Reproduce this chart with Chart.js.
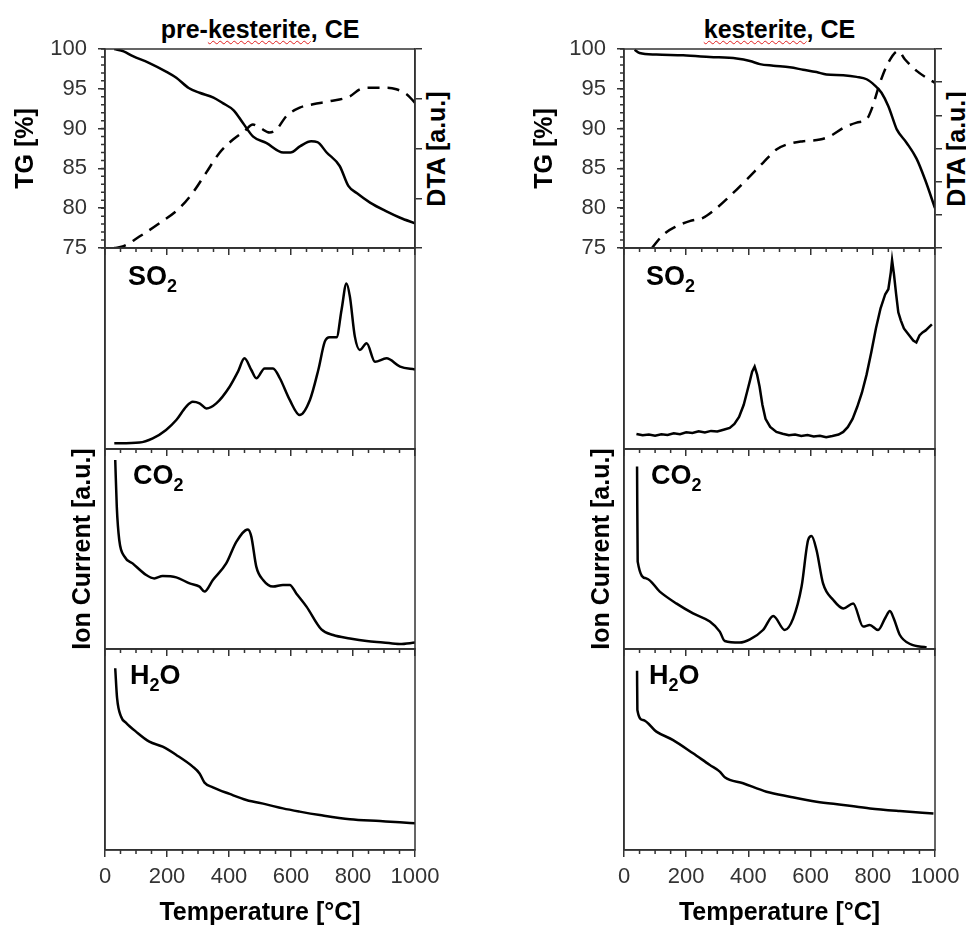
<!DOCTYPE html>
<html>
<head>
<meta charset="utf-8">
<script src="https://cdn.jsdelivr.net/npm/chart.js@4.4.1/dist/chart.umd.min.js"></script>
<style>
  body { margin: 0; background: #fff; overflow: hidden; width: 966px; height: 927px; position: relative;
         font-family: "Liberation Sans", Arial, sans-serif; }
  canvas { position: absolute; }
  .title { position: absolute; top: 17px; font-weight: bold; font-size: 25px; line-height: 25px;
           text-align: center; color: #000; white-space: nowrap; }
  .title span { text-decoration: underline wavy #e02020; text-decoration-thickness: 1px; text-underline-offset: 2px; }
  .dta { position: absolute; font-weight: bold; font-size: 25px; line-height: 25px; color: #000;
         white-space: nowrap; transform: translate(-50%, -50%) rotate(-90deg); }
</style>
</head>
<body>
<div class="title" style="left:105px; width:310px">pre-<span>kesterite</span>, CE</div>
<div class="title" style="left:624px; width:311px"><span>kesterite</span>, CE</div>
<div class="dta" style="left:436px; top:149px">DTA [a.u.]</div>
<div class="dta" style="left:956px; top:149px">DTA [a.u.]</div>
<script>
// pre-kesterite, CE
const preTgT = [30, 60, 90, 140, 200, 230, 270, 305, 350, 380, 415, 445, 478, 520, 575, 598, 630, 665, 685, 715, 757, 785, 812, 855, 908, 952, 1000];
const preTg = [100, 99.7, 99.1, 98.3, 97.1, 96.4, 95.1, 94.5, 93.9, 93.2, 92.3, 90.7, 89.0, 88.2, 87.0, 87.0, 87.8, 88.4, 88.3, 87.0, 85.3, 82.8, 81.9, 80.7, 79.6, 78.8, 78.1];
const preDtaT = [30, 57, 111, 176, 240, 283, 326, 369, 413, 450, 477, 499, 531, 553, 585, 628, 671, 725, 790, 822, 855, 908, 940, 973, 1000];
const preDta = [0.0, 0.03, 0.23, 0.5, 0.8, 1.11, 1.51, 1.91, 2.18, 2.35, 2.48, 2.42, 2.32, 2.38, 2.65, 2.82, 2.89, 2.95, 3.05, 3.19, 3.22, 3.22, 3.19, 3.09, 2.92];
const preSo2T = [30, 111, 154, 197, 230, 262, 283, 305, 327, 359, 402, 429, 450, 472, 488, 515, 542, 564, 596, 628, 661, 688, 709, 725, 747, 763, 779, 790, 806, 822, 844, 871, 908, 952, 1000];
const preSo2 = [2.8, 3.2, 5.3, 9.5, 14.4, 21.1, 23.5, 22.7, 20.2, 22.7, 31.0, 38.5, 45.1, 39.3, 35.2, 40.1, 40.1, 35.2, 24.4, 16.9, 24.4, 39.3, 53.4, 55.6, 55.6, 69.2, 82.4, 75.8, 55.9, 49.3, 52.6, 43.4, 45.1, 41.0, 39.6];
const preCo2T = [33, 38, 46, 63, 89, 133, 159, 186, 230, 273, 305, 321, 348, 391, 424, 461, 472, 488, 510, 542, 574, 596, 617, 650, 698, 736, 790, 844, 897, 951, 1000];
const preCo2 = [94.5, 71.2, 54.5, 46.2, 42.8, 37.0, 35.3, 36.5, 35.8, 32.8, 31.2, 28.7, 34.5, 42.8, 53.7, 59.8, 56.2, 41.2, 34.5, 31.2, 32.0, 32.0, 27.8, 21.2, 9.8, 7.0, 5.3, 4.0, 3.3, 2.5, 3.2];
const preH2oT = [33, 39, 52, 68, 100, 143, 186, 230, 283, 305, 321, 348, 402, 456, 520, 574, 628, 693, 790, 887, 951, 1000];
const preH2o = [90.4, 75.5, 66.3, 63.3, 58.9, 53.9, 51.4, 47.3, 41.5, 38.1, 33.5, 31.2, 27.9, 24.9, 22.7, 20.7, 19.1, 17.4, 15.3, 14.4, 13.8, 13.3];

// kesterite, CE
const kesTgT = [34, 50, 104, 190, 276, 362, 405, 437, 480, 533, 576, 619, 651, 705, 748, 780, 807, 828, 850, 871, 877, 909, 941, 968, 1000];
const kesTg = [99.9, 99.5, 99.3, 99.2, 99.0, 98.8, 98.5, 98.1, 97.9, 97.7, 97.4, 97.1, 96.8, 96.7, 96.5, 96.2, 95.4, 94.5, 92.8, 90.5, 89.9, 88.2, 86.2, 83.6, 80.0];
const kesDtaT = [90, 126, 168, 211, 254, 286, 340, 394, 447, 490, 523, 576, 630, 662, 705, 748, 780, 796, 823, 850, 882, 903, 941, 973, 1000];
const kesDta = [0.0, 0.40, 0.65, 0.81, 0.91, 1.11, 1.56, 2.06, 2.57, 2.97, 3.12, 3.22, 3.27, 3.37, 3.62, 3.78, 3.88, 4.18, 4.98, 5.59, 5.94, 5.69, 5.34, 5.13, 4.98];
const kesSo2T = [40, 60, 80, 100, 120, 140, 160, 180, 200, 220, 240, 260, 280, 300, 320, 340, 355, 370, 385, 395, 405, 412, 420, 428, 436, 445, 455, 470, 490, 510, 530, 550, 570, 590, 610, 630, 650, 670, 690, 705, 720, 735, 750, 765, 780, 795, 810, 825, 840, 850, 858, 862, 868, 875, 882, 890, 900, 910, 920, 930, 940, 950, 960, 970, 980, 990];
const kesSo2 = [7.5, 6.8, 7.2, 6.6, 7.3, 7.0, 7.8, 7.4, 8.3, 8.0, 8.8, 8.2, 9.0, 8.7, 9.6, 10.5, 12.5, 16, 22, 28, 34, 38.5, 41, 37, 31, 22, 15, 11, 8.5, 7.6, 6.8, 7.2, 6.5, 6.9, 6.2, 6.6, 5.9, 6.5, 7.2, 8.5, 11, 15, 21, 28, 37, 48, 60, 70, 77, 79.5, 88, 94, 87, 77, 68, 64, 60, 58, 56, 54, 53, 56.5, 58, 59, 60.5, 62];
const kesCo2T = [42, 44, 72, 115, 168, 222, 276, 308, 324, 372, 405, 447, 480, 517, 544, 571, 592, 603, 619, 640, 673, 705, 737, 769, 790, 817, 840, 855, 868, 887, 920, 973];
const kesCo2 = [91.2, 43.7, 35.3, 28.7, 22.8, 17.8, 13.7, 8.7, 4.0, 3.2, 4.8, 9.5, 16.5, 9.5, 15.3, 31.2, 54.5, 56.5, 49.5, 32.8, 24.5, 20.3, 22.8, 11.2, 12.0, 9.5, 15.5, 19.0, 15.0, 7.0, 2.5, 0.8];
const kesH2oT = [42, 43, 61, 104, 158, 222, 276, 308, 324, 383, 458, 533, 619, 705, 791, 887, 995];
const kesH2o = [89.2, 69.7, 64.7, 58.9, 54.7, 48.1, 42.3, 39.0, 36.2, 33.2, 29.0, 26.5, 24.0, 22.4, 20.7, 19.4, 18.2];

const tempTicks = [0, 200, 400, 600, 800, 1000];

Chart.defaults.font.family = '"Liberation Sans", Arial, sans-serif';
Chart.defaults.color = '#333';
Chart.defaults.animation = false;

const axisColor = '#333';
const cols = { pre: { x: 105, w: 310 }, kes: { x: 624, w: 311 } };
const rowTop = [49, 248, 449, 649, 850];
const padL = 100, padT = 40, padR = 40;

// box round the plot area + minor ticks
const frame = {
  id: 'frame',
  afterDraw(chart, args, o) {
    const { ctx, chartArea: a, scales } = chart;
    ctx.save();
    ctx.strokeStyle = axisColor;
    ctx.lineWidth = 1.5;
    ctx.strokeRect(a.left, a.top, a.right - a.left, a.bottom - a.top);
    ctx.beginPath();
    for (let v = 0; v <= 1000; v += 50) {
      if (tempTicks.includes(v)) continue;
      const px = scales.x.getPixelForValue(v);
      ctx.moveTo(px, a.bottom);
      ctx.lineTo(px, a.bottom + 4);
    }
    if (o.minorY) {
      const ys = scales.y;
      for (let v = ys.min; v <= ys.max; v += o.minorY) {
        const py = ys.getPixelForValue(v);
        ctx.moveTo(a.left - 4, py);
        ctx.lineTo(a.left, py);
      }
    }
    ctx.stroke();
    ctx.restore();
  }
};

// SO2 / CO2 / H2O label in the corner
const gasLabel = {
  id: 'gasLabel',
  afterDraw(chart, args, o) {
    if (!o.a) return;
    const { ctx, chartArea } = chart;
    let x = chartArea.left + o.dx;
    const y = chartArea.top + o.dy;
    ctx.save();
    ctx.fillStyle = '#000';
    ctx.textBaseline = 'alphabetic';
    [[o.a, false], [o.b, true], [o.c, false]].forEach(([txt, sub]) => {
      if (!txt) return;
      ctx.font = sub ? 'bold 18px "Liberation Sans", Arial' : 'bold 27px "Liberation Sans", Arial';
      ctx.fillText(txt, x, sub ? y + 7 : y);
      x += ctx.measureText(txt).width;
    });
    ctx.restore();
  }
};

function line(t, v, axis, dashed, jagged) {
  return {
    data: t.map((x, i) => ({ x: x, y: v[i] })),
    yAxisID: axis,
    borderColor: '#000',
    borderWidth: 2.5,
    borderDash: dashed ? [12, 8] : [],
    pointRadius: 0,
    cubicInterpolationMode: jagged ? 'default' : 'monotone',
    tension: 0,
    fill: false
  };
}

function panel(col, row, datasets, cfg) {
  const c = cols[col];
  const top = rowTop[row];
  const h = rowTop[row + 1] - top;
  const below = cfg.bottom ? 80 : 40;
  const canvas = document.createElement('canvas');
  canvas.width = padL + c.w + padR;
  canvas.height = padT + h + below;
  canvas.style.left = (c.x - padL) + 'px';
  canvas.style.top = (top - padT) + 'px';
  document.body.appendChild(canvas);

  const scales = {
    x: {
      type: 'linear', min: 0, max: 1000,
      afterBuildTicks: s => { s.ticks = tempTicks.map(v => ({ value: v })); },
      ticks: { display: !!cfg.bottom, padding: 7, font: { size: 22 }, maxRotation: 0, color: '#333',
               callback: v => String(v) },
      grid: { drawOnChartArea: false, tickLength: 7, color: axisColor, lineWidth: 1.5 },
      border: { color: axisColor, width: 1.5 },
      title: { display: !!cfg.bottom, text: 'Temperature [°C]', color: '#000',
               font: { size: 25, weight: 'bold' }, padding: { top: 0, bottom: 2 } },
      afterFit: s => { s.height = below; }
    },
    y: {
      min: cfg.yMin, max: cfg.yMax,
      ticks: { display: !!cfg.yStep, stepSize: cfg.yStep, padding: 11, font: { size: 22 }, color: '#333' },
      grid: { drawOnChartArea: false, drawTicks: !!cfg.yStep, tickLength: 7, color: axisColor, lineWidth: 1.5 },
      border: { color: axisColor, width: 1.5 },
      title: { display: !!cfg.yTitle, text: cfg.yTitle || '', color: '#000',
               font: { size: 25, weight: 'bold' }, padding: { top: cfg.yTitlePad || 0 } },
      afterFit: s => { s.width = padL; }
    }
  };
  let right = padR;
  if (cfg.dtaMax) {
    scales.y2 = {
      position: 'right', min: 0, max: cfg.dtaMax,
      ticks: { display: false, stepSize: 1 },
      grid: { drawOnChartArea: false, tickLength: 7, color: axisColor, lineWidth: 1.5 },
      border: { color: axisColor, width: 1.5 },
      afterFit: s => { s.width = padR; }
    };
    right = 0;
  }

  return new Chart(canvas, {
    type: 'line',
    data: { datasets: datasets },
    plugins: [frame, gasLabel],
    options: {
      responsive: false,
      events: [],
      layout: { padding: { left: 0, top: padT, right: right, bottom: 0 } },
      scales: scales,
      plugins: {
        legend: { display: false },
        tooltip: { enabled: false },
        frame: { minorY: cfg.yStep ? 1 : 0 },
        gasLabel: cfg.gas || {}
      }
    }
  });
}

const so2 = dx => ({ a: 'SO', b: '2', c: '', dx: dx, dy: 37 });
const co2 = dx => ({ a: 'CO', b: '2', c: '', dx: dx, dy: 35 });
const h2o = dx => ({ a: 'H', b: '2', c: 'O', dx: dx, dy: 35 });

panel('pre', 0, [line(preTgT, preTg, 'y'), line(preDtaT, preDta, 'y2', true)],
  { yMin: 75, yMax: 100, yStep: 5, yTitle: 'TG [%]', yTitlePad: 6, dtaMax: 4 });
panel('pre', 1, [line(preSo2T, preSo2, 'y')], { yMin: 0, yMax: 100, gas: so2(23) });
panel('pre', 2, [line(preCo2T, preCo2, 'y')],
  { yMin: 0, yMax: 100, yTitle: 'Ion Current [a.u.]', yTitlePad: 63, gas: co2(28) });
panel('pre', 3, [line(preH2oT, preH2o, 'y')], { yMin: 0, yMax: 100, bottom: true, gas: h2o(25) });

panel('kes', 0, [line(kesTgT, kesTg, 'y'), line(kesDtaT, kesDta, 'y2', true)],
  { yMin: 75, yMax: 100, yStep: 5, yTitle: 'TG [%]', yTitlePad: 6, dtaMax: 6 });
panel('kes', 1, [line(kesSo2T, kesSo2, 'y', false, true)], { yMin: 0, yMax: 100, gas: so2(22) });
panel('kes', 2, [line(kesCo2T, kesCo2, 'y')],
  { yMin: 0, yMax: 100, yTitle: 'Ion Current [a.u.]', yTitlePad: 63, gas: co2(27) });
panel('kes', 3, [line(kesH2oT, kesH2o, 'y')], { yMin: 0, yMax: 100, bottom: true, gas: h2o(25) });
</script>
</body>
</html>
